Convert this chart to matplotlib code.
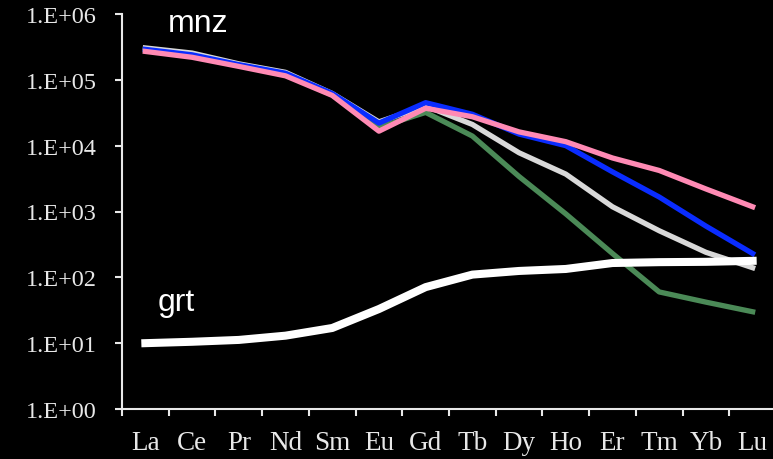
import numpy as np
import matplotlib.pyplot as plt
from matplotlib.ticker import FixedLocator, NullFormatter

# REE pattern data (chondrite normalised)
ree = ['La', 'Ce', 'Pr', 'Nd', 'Sm', 'Eu', 'Gd', 'Tb', 'Dy', 'Ho', 'Er', 'Tm', 'Yb', 'Lu']

mnz_green = [2.85e5, 2.3e5, 1.65e5, 1.2e5, 5.9e4, 1.9e4, 3.2e4, 1.4e4, 3.4e3, 9.2e2, 2.3e2, 60, 42, 30]
mnz_gray = [3.05e5, 2.55e5, 1.75e5, 1.3e5, 6.2e4, 2.3e4, 4.0e4, 2.1e4, 7.8e3, 3.7e3, 1.18e3, 5.1e2, 2.4e2, 1.4e2]
mnz_blue = [2.9e5, 2.4e5, 1.7e5, 1.26e5, 6.2e4, 2.2e4, 4.5e4, 3.0e4, 1.5e4, 1.0e4, 4.0e3, 1.66e3, 6.0e2, 2.3e2]
mnz_pink = [2.7e5, 2.2e5, 1.6e5, 1.15e5, 5.8e4, 1.66e4, 3.7e4, 2.75e4, 1.62e4, 1.15e4, 6.5e3, 4.2e3, 2.2e3, 1.18e3]
grt = [10, 10.5, 11.2, 13, 17, 33, 71, 110, 125, 134, 165, 170, 172, 178]

ytick_vals = [1, 10, 100, 1e3, 1e4, 1e5, 1e6]
ytick_labels = ['1.E+00', '1.E+01', '1.E+02', '1.E+03', '1.E+04', '1.E+05', '1.E+06']

fg = '#e8e8e8'

fig = plt.figure(figsize=(7.73, 4.60), dpi=100, facecolor='black')
ax = fig.add_axes([122/773, 1 - 410/460, 654/773, (410 - 15)/460])
ax.set_facecolor('black')

x = np.arange(len(ree))
ax.plot(x, mnz_green, color='#4b8a57', lw=3.8, solid_joinstyle='round')
ax.plot(x, mnz_gray, color='#d9d9d9', lw=3.8, solid_joinstyle='round')
ax.plot(x, mnz_blue, color='#0a2cff', lw=3.8, solid_joinstyle='round')
ax.plot(x, mnz_pink, color='#ff8ab4', lw=3.8, solid_joinstyle='round')
ax.plot(x, grt, color='white', lw=5.8, solid_joinstyle='round')

ax.set_yscale('log')
ax.set_ylim(1, 1e6)
ax.set_xlim(-0.5, len(ree) - 0.5)

ax.yaxis.set_major_locator(FixedLocator(ytick_vals))
ax.yaxis.set_minor_locator(FixedLocator([]))
ax.set_yticklabels(ytick_labels, family='Liberation Serif', fontsize=17.5, color=fg)

ax.set_xticks(x)
ax.set_xticklabels(ree, family='Liberation Serif', fontsize=19.5, color=fg)
ax.set_xticks(np.arange(-0.5, len(ree), 1), minor=True)
ax.xaxis.set_minor_formatter(NullFormatter())
ax.tick_params(axis='x', which='major', length=0, pad=15)
ax.tick_params(axis='x', which='minor', length=5, width=1.5, color=fg)
ax.tick_params(axis='y', length=5, width=1.5, color=fg, pad=13)

for s in ['top', 'right']:
    ax.spines[s].set_visible(False)
for s in ['left', 'bottom']:
    ax.spines[s].set_color(fg)
    ax.spines[s].set_linewidth(1.5)

ax.text(0.07, 0.977, 'mnz', transform=ax.transAxes, color='white',
        family='Liberation Sans', fontsize=23, va='center')
ax.text(0.055, 0.27, 'grt', transform=ax.transAxes, color='white',
        family='Liberation Sans', fontsize=23, va='center')

fig.savefig('out.png', dpi=100, facecolor='black')
